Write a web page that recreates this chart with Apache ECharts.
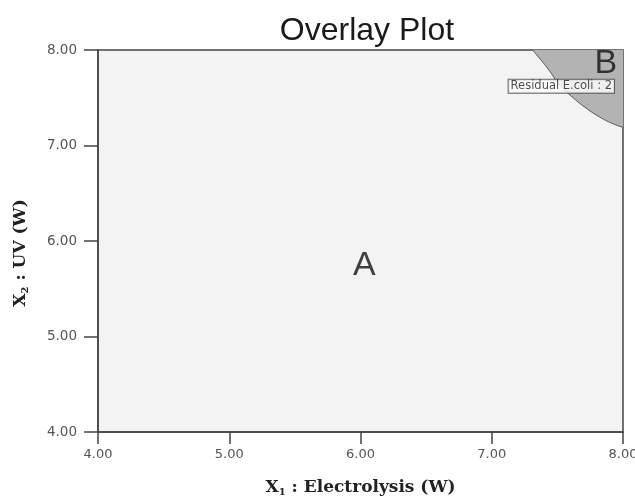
<!DOCTYPE html>
<html><head><meta charset="utf-8">
<script src="https://cdn.jsdelivr.net/npm/echarts@6/dist/echarts.min.js"></script>
<style>html,body{margin:0;padding:0;background:#fff}#c{width:635px;height:498px}</style>
</head><body><div id="c"></div>
<script>
const xTicks = [4, 5, 6, 7, 8];
const yTicks = [4, 5, 6, 7, 8];
// boundary of region B (Residual E.coli = 2 contour)
const contourX = [7.31, 7.36, 7.43, 7.52, 7.62, 7.72, 7.82, 7.92, 8.00];
const contourY = [8.00, 7.92, 7.80, 7.63, 7.50, 7.39, 7.30, 7.23, 7.19];
const regionLabels = ['A', 'B'];
const regionX = [6.03, 7.87];
const regionY = [5.74, 7.86];
const contourLabel = 'Residual E.coli : 2';
const contourLabelPos = [7.53, 7.62];

const titleRich = {
  m: {fontFamily: 'DejaVu Serif', fontWeight: 'bold', fontSize: 17, color: '#222'},
  s: {fontFamily: 'DejaVu Serif', fontWeight: 'bold', fontSize: 10, color: '#222', padding: [9, 0, 0, 0]}
};
const chart = echarts.init(document.getElementById('c'));
chart.setOption({
  animation: false,
  title: {text: 'Overlay Plot', left: 362, textAlign: 'center', top: 10,
    textStyle: {fontFamily: 'Liberation Sans', fontSize: 32, fontWeight: 'normal', color: '#1a1a1a'}},
  grid: {left: 98, right: 12, top: 50, bottom: 66, outerBoundsMode: 'none', containLabel: false,
    show: true, backgroundColor: '#f3f3f3', borderColor: '#444', borderWidth: 1.5},
  xAxis: {type: 'value', min: 4, max: 8, interval: 1,
    axisLine: {show: true, onZero: false, lineStyle: {color: '#444', width: 1.5}},
    axisTick: {show: true, length: 12, lineStyle: {color: '#444', width: 1.5}},
    splitLine: {show: false},
    axisLabel: {formatter: v => v.toFixed(2), color: '#555', fontFamily: 'DejaVu Sans', fontSize: 13, margin: 16},
    name: '{m|X}{s|1}{m| : Electrolysis (W)}', nameLocation: 'middle', nameGap: 46,
    nameTextStyle: {rich: titleRich}
  },
  yAxis: {type: 'value', min: 4, max: 8, interval: 1,
    axisLine: {show: true, onZero: false, lineStyle: {color: '#444', width: 1.5}},
    axisTick: {show: true, length: 14, lineStyle: {color: '#444', width: 1.5}},
    splitLine: {show: false},
    axisLabel: {formatter: v => v.toFixed(2), color: '#555', fontFamily: 'DejaVu Sans', fontSize: 13.5, margin: 21},
    name: '{m|X}{s|2}{m| : UV (W)}', nameLocation: 'middle', nameGap: 68,
    nameTextStyle: {rich: titleRich, padding: [0, 24, 0, 0]}
  },
  series: [
    {type: 'line', data: contourX.map((x, i) => [x, contourY[i]]), smooth: true, symbol: 'none',
      lineStyle: {color: '#555', width: 1}, areaStyle: {origin: 'end', color: '#b3b3b3', opacity: 1}, z: 2},
    {type: 'scatter', symbolSize: 0, z: 5,
      data: regionLabels.map((t, i) => ({value: [regionX[i], regionY[i]], name: t})),
      label: {show: true, position: 'inside', formatter: p => p.name, fontFamily: 'Liberation Sans', fontSize: 34, color: '#111'}},
    {type: 'scatter', symbolSize: 0, z: 6,
      data: [{value: contourLabelPos, name: contourLabel}],
      label: {show: true, position: 'inside', formatter: p => p.name, fontFamily: 'DejaVu Sans', fontSize: 11.5, color: '#222',
        backgroundColor: '#fff', borderColor: '#444', borderWidth: 1, padding: [1, 2, 0, 2]}}
  ]
});
</script></body></html>
